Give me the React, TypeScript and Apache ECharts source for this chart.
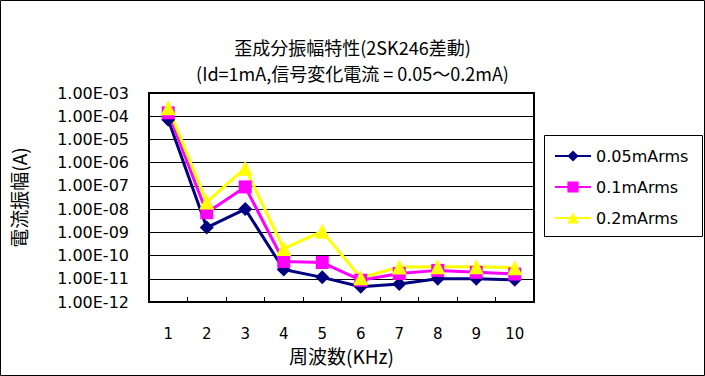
import React, { useEffect, useRef } from "react";
import * as echarts from "echarts";

const categories = ["1", "2", "3", "4", "5", "6", "7", "8", "9", "10"];
const seriesNames = ["0.05mArms", "0.1mArms", "0.2mArms"];
const s005 = [7e-5, 1.6e-9, 1e-8, 2.5e-11, 1.15e-11, 4.5e-12, 6e-12, 1e-11, 1e-11, 9e-12];
const s01 = [1.4e-4, 7e-9, 9e-8, 5.6e-11, 5e-11, 8.7e-12, 1.7e-11, 2.3e-11, 1.9e-11, 1.6e-11];
const s02 = [2.3e-4, 2e-8, 5.8e-7, 2e-10, 1.1e-9, 1.1e-11, 3.2e-11, 3.3e-11, 3.3e-11, 3e-11];
const titleLine1 = "歪成分振幅特性(2SK246差動)";
const titleLine2 = "(Id=1mA,信号変化電流 = 0.05～0.2mA)";
const yName = "電流振幅(A)";
const xName = "周波数(KHz)";

const FONT = "'Noto Sans CJK JP', 'Noto Sans', sans-serif";
const NUMFONT = "'DejaVu Sans', 'Noto Sans CJK JP', sans-serif";

export default function App() {
  const ref = useRef<HTMLDivElement>(null);
  useEffect(() => {
    document.body.style.margin = "0";
    const chart = echarts.init(ref.current!, null, { renderer: "svg" });
    const mk = (name: string, data: number[], color: string, symbol: string, size: number) => ({
      name,
      type: "line",
      data,
      symbol,
      symbolSize: size,
      lineStyle: { color, width: 3 },
      itemStyle: { color },
      color,
    });
    chart.setOption({
      animation: false,
      backgroundColor: "#fff",
      textStyle: { fontFamily: FONT, color: "#000" },
      title: [
        {
          text: titleLine1,
          left: "center",
          top: 38,
          padding: 0,
          textStyle: { fontSize: 18, lineHeight: 18, fontWeight: "normal", fontFamily: FONT, color: "#000" },
        },
        {
          text: titleLine2,
          left: "center",
          top: 64,
          padding: 0,
          textStyle: { fontSize: 18, lineHeight: 18, fontWeight: "normal", fontFamily: FONT, color: "#000" },
        },
      ],
      grid: {
        left: 149,
        top: 93,
        width: 385,
        height: 209,
        show: true,
        borderColor: "#000",
        borderWidth: 2,
        backgroundColor: "#fff",
      },
      legend: {
        orient: "vertical",
        left: 554,
        top: 148,
        padding: 0,
        itemWidth: 36,
        itemHeight: 14,
        itemGap: 15,
        data: seriesNames,
        textStyle: { fontSize: 16, fontFamily: NUMFONT, color: "#000" },
      },
      graphic: [
        {
          type: "rect",
          shape: { x: 0.5, y: 0.5, width: 704, height: 375 },
          style: { fill: "none", stroke: "#000", lineWidth: 1 },
          silent: true,
        },
        {
          type: "rect",
          shape: { x: 544.5, y: 135.5, width: 158, height: 101 },
          style: { fill: "none", stroke: "#000", lineWidth: 1 },
          silent: true,
        },
      ],
      xAxis: {
        type: "category",
        data: categories,
        boundaryGap: true,
        name: xName,
        nameLocation: "middle",
        nameGap: 42,
        nameTextStyle: { fontSize: 19, fontFamily: FONT, color: "#000" },
        axisLine: { lineStyle: { color: "#000", width: 2 } },
        axisTick: { show: true, inside: true, length: 5, lineStyle: { color: "#000", width: 1 } },
        axisLabel: { fontSize: 15, color: "#000", margin: 24, fontFamily: NUMFONT },
        splitLine: { show: false },
      },
      yAxis: {
        type: "log",
        logBase: 10,
        min: 1e-12,
        max: 1e-3,
        interval: 1,
        name: yName,
        nameLocation: "middle",
        nameRotate: 90,
        nameGap: 121,
        nameTextStyle: { fontSize: 19, fontFamily: FONT, color: "#000" },
        axisLine: { show: true, lineStyle: { color: "#000", width: 2 } },
        axisTick: { show: false },
        axisLabel: {
          fontSize: 16,
          color: "#000",
          margin: 20,
          fontFamily: NUMFONT,
          formatter: (v: number) => {
            const e = Math.round(Math.log10(v));
            return "1.00E" + (e < 0 ? "-" : "+") + String(Math.abs(e)).padStart(2, "0");
          },
        },
        splitLine: { show: true, lineStyle: { color: "#000", width: 1 } },
        minorSplitLine: { show: false },
      },
      series: [
        mk(seriesNames[0], s005, "#000080", "diamond", 14),
        mk(seriesNames[1], s01, "#FF00FF", "rect", 13),
        mk(seriesNames[2], s02, "#FFFF00", "triangle", 15),
      ],
    });
    return () => chart.dispose();
  }, []);
  return <div ref={ref} style={{ width: 705, height: 376 }} />;
}
